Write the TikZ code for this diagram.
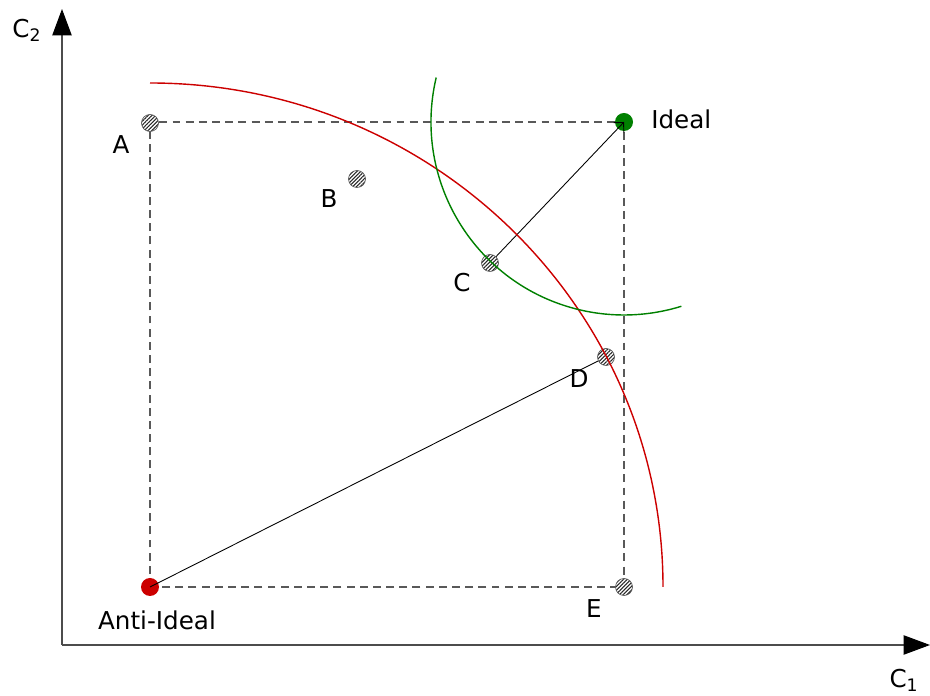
\documentclass[tikz,border=0pt]{standalone}
\usepackage{fontspec}
\setmainfont{DejaVu Sans}
\usetikzlibrary{arrows.meta, patterns.meta}

\definecolor{idealgreen}{RGB}{0,128,0}
\definecolor{antired}{RGB}{204,0,0}

\begin{document}
\begin{tikzpicture}[
  x=0.02cm, y=0.02cm, font=\fontsize{14}{17}\selectfont,
  > = {Triangle[length=14pt,width=10pt]},
  alt/.style = {draw=black!65, circle, inner sep=0pt, minimum size=0.34cm,
    preaction={fill=white}, pattern={Lines[angle=45,distance=1.5pt,line width=0.6pt]}, pattern color=black!85},
  ref/.style = {circle, inner sep=0pt, minimum size=0.36cm},
  lbl/.style = {inner sep=0pt},
  guide/.style = {black!65, dash pattern=on 4.5pt off 3pt, line width=0.6pt}
  ]
  \useasboundingbox (0,0) rectangle (930,696);
  % axes
  \coordinate (o) at (62,51);
  \coordinate (ytip) at (62,687);
  \coordinate (xtip) at (930,51);
  \draw[black!70, line width=0.6pt, -{Triangle[length=15pt,width=11pt,black]}] (o) -- (ytip);
  \draw[black!70, line width=0.6pt, -{Triangle[length=15pt,width=11pt,black]}] (o) -- (xtip);
  \node[lbl] (c2) at (27,666) {C\textsubscript{2}};
  \node[lbl] (c1) at (904,16) {C\textsubscript{1}};
  % bounding rectangle of the alternatives
  \coordinate (anti) at (150,109);
  \coordinate (ideal) at (624,574);
  \draw[guide] (anti) rectangle (ideal);
  % alternatives
  \node[alt] (@A) at (150,573) {};
  \node[alt] (@B) at (357,517) {};
  \node[alt] (@C) at (490,433) {};
  \node[alt] (@D) at (606,339) {};
  \node[alt] (@E) at (624,109) {};
  \node[ref, fill=idealgreen] (@ideal) at (ideal) {};
  \node[ref, fill=antired] (@anti) at (anti) {};
  \node[lbl] (lA) at (121,551) {A};
  \node[lbl] (lB) at (329,497) {B};
  \node[lbl] (lC) at (462,413) {C};
  \node[lbl] (lD) at (579,317) {D};
  \node[lbl] (lE) at (594,87) {E};
  \node[lbl, anchor=west] (lideal) at (651,577) {Ideal};
  \node[lbl] (lanti) at (157,76) {Anti-Ideal};
  % distances
  \draw[line width=0.5pt, -{Straight Barb[length=4pt]}] (@C) -- (@ideal.center);
  \draw[line width=0.5pt] (@D) -- (@anti.center);
  % iso-distance arcs
  \draw[antired, line width=0.8pt] (@anti.center) ++(0,504) arc[start angle=90, end angle=0, x radius=513, y radius=504];
  \draw[idealgreen, line width=0.8pt] (@ideal.center) ++(166.7:193) arc[start angle=166.7, end angle=287.3, radius=193];
\end{tikzpicture}
\end{document}
